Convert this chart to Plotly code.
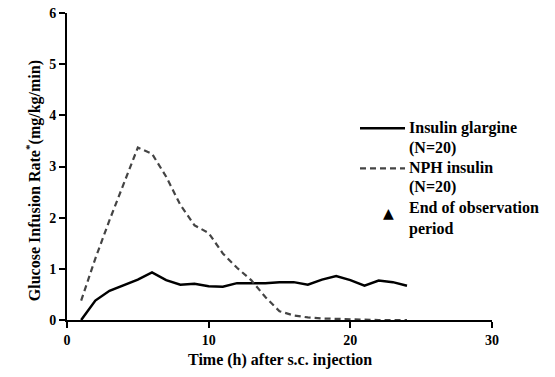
import plotly.graph_objects as go

hours = list(range(1, 25))
glargine = [0.0, 0.38, 0.57, 0.68, 0.79, 0.93, 0.78, 0.69, 0.71, 0.66, 0.65, 0.72,
            0.72, 0.72, 0.74, 0.74, 0.69, 0.79, 0.86, 0.78, 0.67, 0.77, 0.74, 0.67]
nph = [0.38, 1.2, 1.95, 2.65, 3.37, 3.25, 2.8, 2.25, 1.85, 1.7, 1.3, 1.02,
       0.78, 0.45, 0.17, 0.09, 0.05, 0.03, 0.02, 0.01, 0.0, 0.0, 0.0, 0.0]
end_x = [24]
end_y = [-0.14]

x_ticks = [0, 10, 20, 30]
y_ticks = [0, 1, 2, 3, 4, 5, 6]

FONT = "Times New Roman, Liberation Serif, serif"
DASH = "6px,4px"

fig = go.Figure()
fig.add_trace(go.Scatter(x=hours, y=glargine, mode="lines",
                         line=dict(color="black", width=2.5),
                         name="Insulin glargine (N=20)", cliponaxis=False))
fig.add_trace(go.Scatter(x=hours, y=nph, mode="lines",
                         line=dict(color="#444444", width=2.2, dash=DASH),
                         name="NPH insulin (N=20)", cliponaxis=False))
fig.add_trace(go.Scatter(x=end_x, y=end_y, mode="markers",
                         marker=dict(symbol="triangle-up", size=13, color="black"),
                         name="End of observation period", cliponaxis=False))

L, R, T, B = 67, 63, 6, 57
W, H = 555, 377
pw, ph = W - L - R, H - T - B

def px(xp):
    return (xp - L) / pw

def py(yp):
    return (H - B - yp) / ph

fig.update_layout(
    width=W, height=H,
    margin=dict(l=L, r=R, t=T, b=B),
    paper_bgcolor="white", plot_bgcolor="white",
    showlegend=False,
    font=dict(family=FONT, color="black"),
)
tickfont = dict(family=FONT, size=14, color="black")
fig.update_xaxes(range=[0, 30], tickvals=x_ticks, ticktext=["<b>%d</b>" % v for v in x_ticks],
                 showgrid=False, zeroline=False,
                 showline=True, linecolor="black", linewidth=2,
                 ticks="outside", ticklen=6, tickwidth=2, tickcolor="black",
                 ticklabeloverflow="allow", tickfont=tickfont)
fig.update_yaxes(range=[0, 6], tickvals=y_ticks, ticktext=["<b>%d</b>" % v for v in y_ticks],
                 showgrid=False, zeroline=False,
                 showline=True, linecolor="black", linewidth=2,
                 ticks="outside", ticklen=6, tickwidth=2, tickcolor="black",
                 ticklabeloverflow="allow", tickfont=tickfont)

annots = []
annots.append(dict(x=px(280), y=py(361), xref="paper", yref="paper",
                   xanchor="center", yanchor="middle",
                   text="<b>Time (h) after s.c. injection</b>", showarrow=False,
                   font=dict(family=FONT, size=16, color="black")))
annots.append(dict(x=px(33), y=py(178), xref="paper", yref="paper", textangle=-90,
                   xanchor="center", yanchor="middle",
                   text="<b>Glucose Infusion Rate<sup>*</sup>(mg/kg/min)</b>", showarrow=False,
                   font=dict(family=FONT, size=16, color="black")))

leg_lines = [("Insulin glargine", 124), ("(N=20)", 144), ("NPH insulin", 164),
             ("(N=20)", 184), ("End of observation", 205), ("period", 227)]
for txt, yp in leg_lines:
    annots.append(dict(x=px(407), y=py(yp), xref="paper", yref="paper",
                       xanchor="left", yanchor="middle",
                       text="<b>" + txt + "</b>", showarrow=False,
                       font=dict(family=FONT, size=16, color="black")))
annots.append(dict(x=px(388), y=py(211), xref="paper", yref="paper",
                   xanchor="center", yanchor="middle",
                   text="▲", showarrow=False,
                   font=dict(family="DejaVu Sans", size=14, color="black")))
fig.update_layout(annotations=annots)

fig.add_shape(type="line", xref="paper", yref="paper",
              x0=px(360), x1=px(405), y0=py(124), y1=py(124),
              line=dict(color="black", width=2.5))
fig.add_shape(type="line", xref="paper", yref="paper",
              x0=px(360), x1=px(405), y0=py(165), y1=py(165),
              line=dict(color="#444444", width=2.2, dash=DASH))

fig.write_html("out.html", config={"displayModeBar": False},
               post_script="document.body.style.margin='0';document.body.style.overflow='hidden';")
